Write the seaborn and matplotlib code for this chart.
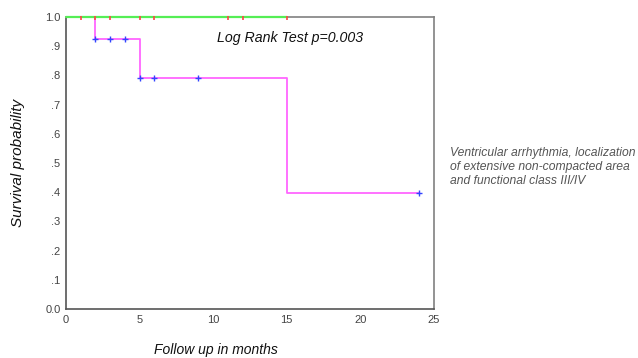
import numpy as np
import pandas as pd
import matplotlib
matplotlib.use("Agg")
import matplotlib.pyplot as plt
import seaborn as sns

# Kaplan-Meier data
g1_time = [0, 15]
g1_surv = [1.0, 1.0]
g1_cens = [1, 2, 3, 5, 6, 11, 12, 15]

g2_time = [0, 2, 5, 15, 24]
g2_surv = [1.0, 0.923, 0.791, 0.396, 0.396]
g2_cens = [2, 3, 4, 5, 6, 9, 24]

x_ticks = [0, 5, 10, 15, 20, 25]
y_ticks = [0.0, 0.1, 0.2, 0.3, 0.4, 0.5, 0.6, 0.7, 0.8, 0.9, 1.0]
y_labels = ["0.0", ".1", ".2", ".3", ".4", ".5", ".6", ".7", ".8", ".9", "1.0"]


def surv_at(times, survs, t):
    idx = np.searchsorted(times, t, side="right") - 1
    return survs[idx]


sns.set_style("white")
plt.rcParams["font.family"] = ["Liberation Sans", "DejaVu Sans"]

fig = plt.figure(figsize=(6.38, 3.58), dpi=100)
ax = fig.add_axes([0.1034, 0.137, 0.5768, 0.8155])

df1 = pd.DataFrame({"time": g1_time, "surv": g1_surv})
df2 = pd.DataFrame({"time": g2_time, "surv": g2_surv})
sns.lineplot(data=df2, x="time", y="surv", ax=ax, color="#ff66ff",
             drawstyle="steps-post", linewidth=1.3, zorder=3, clip_on=False)
sns.lineplot(data=df1, x="time", y="surv", ax=ax, color="#55ee55",
             drawstyle="steps-post", linewidth=1.6, zorder=4, clip_on=False)

c1 = pd.DataFrame({"time": g1_cens,
                   "surv": [surv_at(g1_time, g1_surv, t) - 0.004 for t in g1_cens]})
c2 = pd.DataFrame({"time": g2_cens,
                   "surv": [surv_at(g2_time, g2_surv, t) for t in g2_cens]})
sns.scatterplot(data=c1, x="time", y="surv", ax=ax, marker="|", color="#ff4444",
                s=8, linewidth=1.2, zorder=5, clip_on=False)
sns.scatterplot(data=c2, x="time", y="surv", ax=ax, marker="+", color="#3344ff",
                s=14, linewidth=1.0, zorder=5, clip_on=False)

ax.set_xlim(0, 25)
ax.set_ylim(0, 1.0)
ax.set_xticks(x_ticks)
ax.set_xticklabels([str(t) for t in x_ticks])
ax.set_yticks(y_ticks)
ax.set_yticklabels(y_labels)
ax.tick_params(axis="both", direction="out", length=2.5, width=2, color="black",
               labelsize=8, labelcolor="#444444", pad=1.5)

for side in ["left", "bottom"]:
    ax.spines[side].set_color("#555555")
    ax.spines[side].set_linewidth(1.2)
for side in ["right", "top"]:
    ax.spines[side].set_color("#808080")
    ax.spines[side].set_linewidth(1.2)
for sp in ax.spines.values():
    sp.set_zorder(1)

ax.set_xlabel("")
ax.set_ylabel("")
fig.text(0.338, 0.022, "Follow up in months", fontsize=10, style="italic",
         ha="center", va="center", color="#111111")
fig.text(0.028, 0.545, "Survival probability", fontsize=11, style="italic",
         ha="center", va="center", rotation=90, color="#111111")
fig.text(0.455, 0.894, "Log Rank Test p=0.003",
         fontsize=10.2, style="italic", ha="center", va="center", color="#111111")
fig.text(0.705, 0.534,
         "Ventricular arrhythmia, localization\nof extensive non-compacted area\nand functional class III/IV",
         fontsize=8.7, style="italic", ha="left", va="center", color="#555555",
         linespacing=1.2)

fig.savefig("out.png", dpi=100, facecolor="white")
